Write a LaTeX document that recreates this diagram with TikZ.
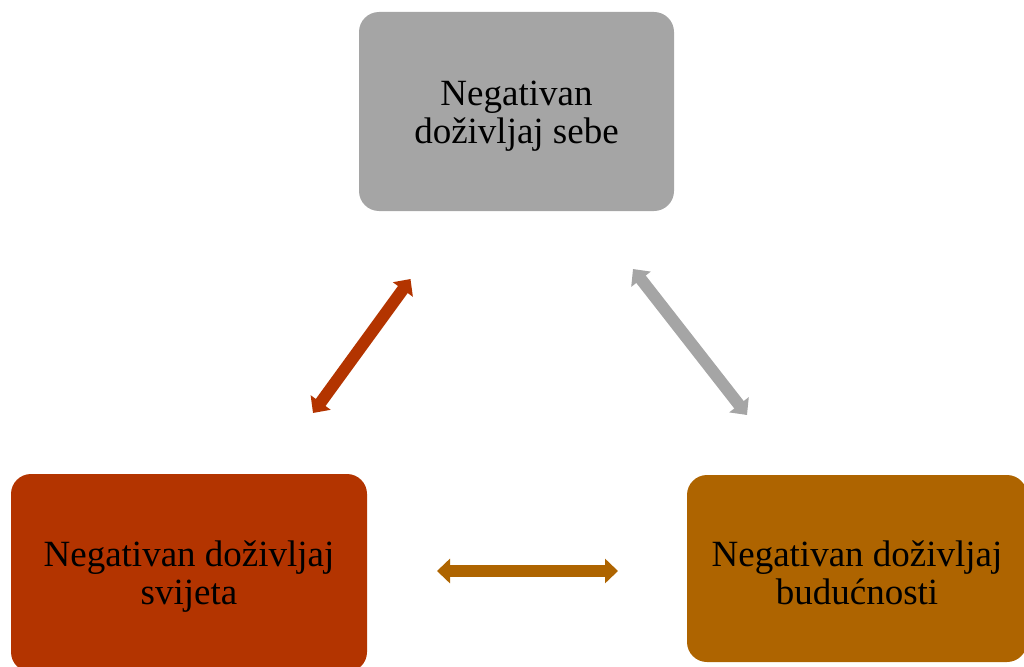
\documentclass[tikz,border=0pt]{standalone}
\usepackage{fontspec}
\setmainfont{Liberation Serif}
\usetikzlibrary{arrows.meta}
\definecolor{cgray}{HTML}{A5A5A5}
\definecolor{cred}{HTML}{B33400}
\definecolor{corange}{HTML}{AE6400}
\begin{document}
\begin{tikzpicture}[x=1pt,y=-1pt,
  box/.style={rectangle,rounded corners=20pt,inner sep=0pt},
  lbl/.style={inner sep=0pt,align=center,font=\fontsize{37}{38}\selectfont,text=black},
  dbl/.style={line width=12pt,{Triangle[width=24pt,length=13pt]}-{Triangle[width=24pt,length=13pt]}}]
\useasboundingbox (0,0) rectangle (1024,666);
\node[box,fill=cgray,minimum width=315pt,minimum height=199pt] (self) at (516.5,111.5) {};
\node[box,fill=cred,minimum width=356pt,minimum height=198pt] (world) at (189,573) {};
\node[box,fill=corange,minimum width=340pt,minimum height=187pt] (future) at (857,568.5) {};
\node[lbl] (selft) at ([yshift=-5pt]self.center) {Negativan\\doživljaj sebe};
\node[lbl] (worldt) at ([yshift=-4pt]world.center) {Negativan doživljaj\\svijeta};
\node[lbl] (futuret) at ([yshift=-4pt]future.center) {Negativan doživljaj\\budućnosti};
\coordinate (r1) at (313,413);
\coordinate (r2) at (410.5,279);
\coordinate (g1) at (633,269);
\coordinate (g2) at (747,415);
\coordinate (o1) at (437,571);
\coordinate (o2) at (618,571);
\draw[dbl,cred] (r1) -- (r2);
\draw[dbl,cgray] (g1) -- (g2);
\draw[dbl,corange] (o1) -- (o2);
\end{tikzpicture}
\end{document}
